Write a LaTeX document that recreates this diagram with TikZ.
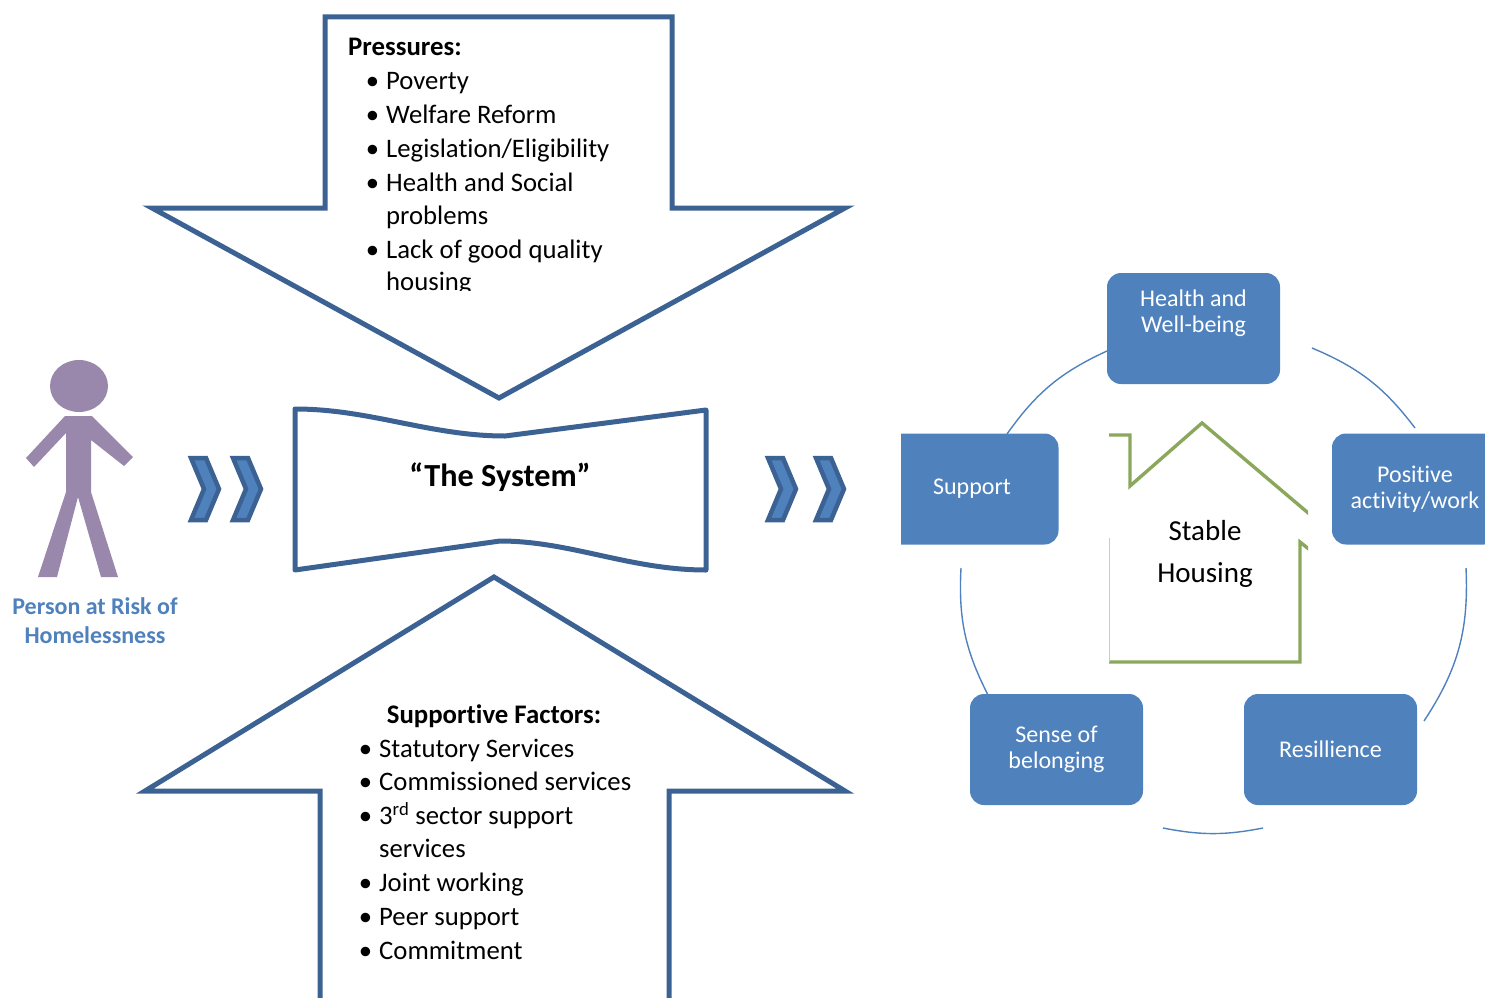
\documentclass[tikz,border=0pt]{standalone}
\usepackage{fontspec}
\setmainfont{Carlito}[Ligatures=NoCommon]
\usetikzlibrary{positioning}

\definecolor{edgeblue}{HTML}{3B6292}
\definecolor{fillblue}{HTML}{4F81BD}
\definecolor{personpurple}{HTML}{9A88AC}
\definecolor{housegreen}{HTML}{8BA75C}

\newcommand{\listdot}{\llap{\textbullet\hspace{7pt}}}
\newcommand{\lowered}[1]{\raisebox{-2pt}{#1}}

\begin{document}
\begin{tikzpicture} [
    x=1pt, y=-1pt,
    outline/.style = {draw=edgeblue, line width=5pt, line join=miter},
    chevron/.style = {draw=edgeblue, fill=fillblue, line width=4.5pt, line join=miter},
    person/.style = {fill=personpurple},
    listitem/.style = {anchor=base west, inner sep=0pt, font=\fontsize{26.7}{30}\selectfont},
    listhead/.style = {listitem, font=\fontsize{26.8}{30}\selectfont\bfseries},
    factor/.style = {fill=fillblue, rounded corners=14pt, minimum width=173pt, minimum height=111pt,
        inner sep=0pt, align=center, text=white, font=\fontsize{24}{26.5}\selectfont},
    ringline/.style = {draw=fillblue, line width=1.4pt},
    houseline/.style = {draw=housegreen, line width=3.4pt, line join=miter},
    houselabel/.style = {anchor=base, inner sep=0pt, font=\fontsize{29}{34}\selectfont}]

    \useasboundingbox (0,0) rectangle (1485,998);

    % pressures arrow
    \draw [outline] (325,17) -- (672,17) -- (672,208) -- (845,208) -- (499,398)
        -- (152,208) -- (325,208) -- cycle;
    \node (pressures) [listhead] at (348,56) {Pressures:};
    \node (poverty) [listitem] at (386,89.5) {\listdot Poverty};
    \node (welfare) [listitem] at (386,123.5) {\listdot Welfare Reform};
    \node (legislation) [listitem] at (386,157.5) {\listdot Legislation/Eligibility};
    \node (health) [listitem] at (386,191.5) {\listdot Health and Social};
    \node (problems) [listitem] at (386,224.5) {problems};
    \node (lack) [listitem] at (386,258.5) {\listdot Lack of good quality};
    \begin{scope}
        \clip (380,262) rectangle (480,290);
        \node (housing) [listitem] at (386,290.5) {housing};
    \end{scope}

    % the system
    \draw [outline, line join=round] (295,409) .. controls (370,409) and (430,436) .. (505,436)
        -- (706,410) -- (706,570) .. controls (630,570) and (570,541) .. (500,541)
        -- (295,570) -- cycle;
    \node (system) [inner sep=0pt, anchor=base, font=\fontsize{32.2}{36}\selectfont\bfseries]
        at (500,486) {“The System”};

    % supportive factors arrow
    \draw [outline] (320,998) -- (320,791) -- (145,791) -- (494,577) -- (845,791)
        -- (669,791) -- (669,998);
    \node (supportive) [listhead, anchor=base] at (494,723) {Supportive Factors:};
    \node (statutory) [listitem] at (379,757.5) {\listdot Statutory Services};
    \node (commissioned) [listitem] at (379,790.5) {\listdot Commissioned services};
    \node (sector) [listitem] at (379,824.5) {\listdot 3\textsuperscript{rd} sector support};
    \node (services) [listitem] at (379,857.5) {services};
    \node (joint) [listitem] at (379,891.5) {\listdot Joint working};
    \node (peer) [listitem] at (379,925.5) {\listdot Peer support};
    \node (commitment) [listitem] at (379,959.5) {\listdot Commitment};

    % person
    \fill [person] (79,386) ellipse [x radius=29, y radius=26];
    \fill [person] (65,416) -- (92,416) -- (133,457) -- (124,466) -- (91,440) -- (91,492)
        -- (118,577) -- (101,577) -- (78,497) -- (57,577) -- (38,577) -- (66,492)
        -- (66,433) -- (34,467) -- (26,458) -- cycle;
    \node (person) [inner sep=0pt, align=center, text=fillblue,
        font=\fontsize{24}{29}\selectfont\bfseries] at (95,620.5) {Person at Risk of\\Homelessness};

    % chevrons
    \draw [chevron] (191,458) -- (206,458) -- (219,489) -- (206,520) -- (191,520) -- (204,489) -- cycle;
    \draw [chevron] (233,458) -- (248,458) -- (261,489) -- (248,520) -- (233,520) -- (246,489) -- cycle;
    \draw [chevron] (768,458) -- (783,458) -- (796,489) -- (783,520) -- (768,520) -- (781,489) -- cycle;
    \draw [chevron] (816,458) -- (831,458) -- (844,489) -- (831,520) -- (816,520) -- (829,489) -- cycle;

    % house
    \begin{scope}
        \clip (1109,400) rectangle (1308,670);
        \draw [houseline] (1100,435) -- (1130,435) -- (1130,486) -- (1202,423) -- (1320,523);
        \draw [houseline] (1320,558) -- (1300,542) -- (1300,662) -- (1100,662);
    \end{scope}
    \draw [houseline, line width=1.2pt, draw=housegreen!50] (1109.6,662) -- (1109.6,538);
    \node (stable) [houselabel] at (1205,540.5) {Stable};
    \node (housinglabel) [houselabel] at (1205,582.5) {Housing};

    % factors round the house
    \begin{scope}
        \clip (901,0) rectangle (1485,998);
        \node (wellbeing) [factor] at (1193.5,328.5) {Health and\\Well-being\\[8pt]~};
        \node (support) [factor] at (972,489) {\lowered{Support}};
        \node (positive) [factor, minimum width=166pt] at (1415,489) {Positive\\activity/work};
        \node (belonging) [factor] at (1056.5,749.5) {\lowered{Sense of}\\\lowered{belonging}};
        \node (resilience) [factor] at (1330.5,749.5) {Resillience};
    \end{scope}

    \coordinate (ring1a) at (1007,434);
    \coordinate (ring1b) at (1107,351);
    \coordinate (ring2a) at (1312,348);
    \coordinate (ring2b) at (1415,428);
    \coordinate (ring3a) at (1466,568);
    \coordinate (ring3b) at (1424,721);
    \coordinate (ring4a) at (1263,828);
    \coordinate (ring4b) at (1163,828);
    \coordinate (ring5a) at (988,695);
    \coordinate (ring5b) at (961,568);

    \path [ringline]
        (ring1a) edge [bend left=15] (ring1b)
        (ring2a) edge [bend left=15] (ring2b)
        (ring3a) edge [bend left=18] (ring3b)
        (ring4a) edge [bend left=11] (ring4b)
        (ring5a) edge [bend left=15] (ring5b);
\end{tikzpicture}
\end{document}
